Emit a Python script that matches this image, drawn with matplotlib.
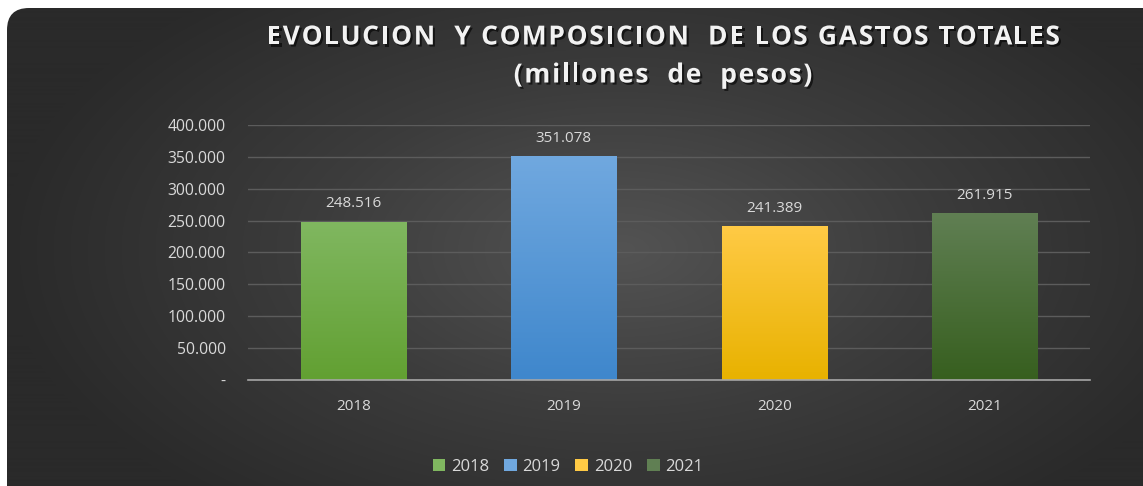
import numpy as np
import matplotlib
matplotlib.use("Agg")
from matplotlib import pyplot as plt
from matplotlib.patches import FancyBboxPatch, Rectangle
from matplotlib.ticker import FuncFormatter
import matplotlib.patheffects as pe
from matplotlib.colors import LinearSegmentedColormap

years = ["2018", "2019", "2020", "2021"]
values = [248516, 351078, 241389, 261915]
yticks = [0, 50000, 100000, 150000, 200000, 250000, 300000, 350000, 400000]
title_lines = ["EVOLUCION  Y COMPOSICION  DE LOS GASTOS TOTALES", "(millones  de  pesos)"]

# top / bottom colours of each bar gradient
top_colors = ["#80b760", "#70a8df", "#ffca45", "#607f53"]
bottom_colors = ["#62a032", "#3f87cc", "#e8b200", "#375f1f"]

plt.rcParams["font.family"] = ["Open Sans", "DejaVu Sans"]

W, H = 1143, 486
fig = plt.figure(figsize=(W / 100, H / 100), dpi=100, facecolor="white")
renderer = fig.canvas.get_renderer()

# dark card with radial gradient and rounded corners
bg = fig.add_axes([0, 0, 1, 1])
bg.set_xlim(0, W)
bg.set_ylim(H, 0)
bg.axis("off")
yy, xx = np.mgrid[0:H, 0:W]
r = np.sqrt(((xx - 620) / 620.0) ** 2 + ((yy - 250) / 330.0) ** 2)
grad = np.clip(r, 0, 1)
bg_cmap = LinearSegmentedColormap.from_list("bg", ["#535353", "#3c3c3c", "#2a2a2a"])
im = bg.imshow(grad, cmap=bg_cmap, extent=[0, W, H, 0], aspect="auto", zorder=0)
card = FancyBboxPatch((7, 8), W + 40, H + 40, boxstyle="round,pad=0,rounding_size=22",
                      transform=bg.transData, facecolor="none", edgecolor="none")
bg.add_patch(card)
im.set_clip_path(card)

ax = fig.add_axes([248 / W, 1 - 380 / H, (1090 - 248) / W, (380 - 125) / H])
ax.set_facecolor("none")
x = np.arange(len(years))
bars = ax.bar(x, values, width=0.5, color=top_colors, zorder=2)

for b, c0, c1 in zip(bars, top_colors, bottom_colors):
    cm = LinearSegmentedColormap.from_list("g", [c1, c0])
    x0, w, h = b.get_x(), b.get_width(), b.get_height()
    gim = ax.imshow(np.linspace(0, 1, 100).reshape(-1, 1), cmap=cm, origin="lower",
                    extent=[x0, x0 + w, 0, h], aspect="auto", zorder=3)
    gim.set_clip_path(b)
    ax.text(b.get_x() + w / 2, h + 16000, f"{h:,.0f}".replace(",", "."),
            ha="center", va="bottom", color="#d9d9d9", fontsize=11, zorder=4)

ax.set_xlim(-0.5, len(years) - 0.5)
ax.set_ylim(0, 400000)
ax.set_yticks(yticks)
ax.yaxis.set_major_formatter(FuncFormatter(lambda v, p: "-" if v == 0 else f"{v:,.0f}".replace(",", ".")))
ax.set_xticks(x)
ax.set_xticklabels(years)
ax.tick_params(axis="y", length=0, pad=16, labelsize=11.3, labelcolor="#d9d9d9")
ax.tick_params(axis="x", length=0, pad=14, labelsize=11, labelcolor="#d9d9d9")
ax.grid(axis="y", color="#5c5c5c", linewidth=1, zorder=1)
ax.set_axisbelow(True)
for s in ["top", "right", "left"]:
    ax.spines[s].set_visible(False)
ax.spines["bottom"].set_color("#a6a6a6")
ax.spines["bottom"].set_linewidth(1.2)
ax.spines["bottom"].set_zorder(5)


def spaced_text(s, cx, cy, track, **kw):
    # draw a title line with extra letter spacing, one glyph at a time
    def width(t):
        tmp = fig.text(0, 0, t, **kw)
        wd = tmp.get_window_extent(renderer).width
        tmp.remove()
        return wd
    total = width(s) + track * (len(s) - 1)
    left = cx - total / 2
    for i, ch in enumerate(s):
        if ch == " ":
            continue
        px = left + width(s[:i]) + track * i if i else left
        fig.text(px / W, 1 - cy / H, ch, ha="left", va="center", **kw)


shadow = [pe.withSimplePatchShadow(offset=(1.5, -1.5), shadow_rgbFace="black", alpha=0.6)]
title_kw = dict(fontsize=19, fontweight="bold", color="#f2f2f2", path_effects=shadow)
spaced_text(title_lines[0], 663, 37, 1.75, **title_kw)
spaced_text(title_lines[1], 663, 75, 1.75, **title_kw)

handles = [Rectangle((0, 0), 1, 1, facecolor=c) for c in top_colors]
fig.legend(handles, years, loc="center", bbox_to_anchor=(568 / W, 1 - 467 / H), ncol=4,
           frameon=False, fontsize=12, labelcolor="#d9d9d9", handlelength=0.75,
           handleheight=0.75, handletextpad=0.35, columnspacing=0.9)

fig.savefig("out.png", dpi=100, facecolor="white")
